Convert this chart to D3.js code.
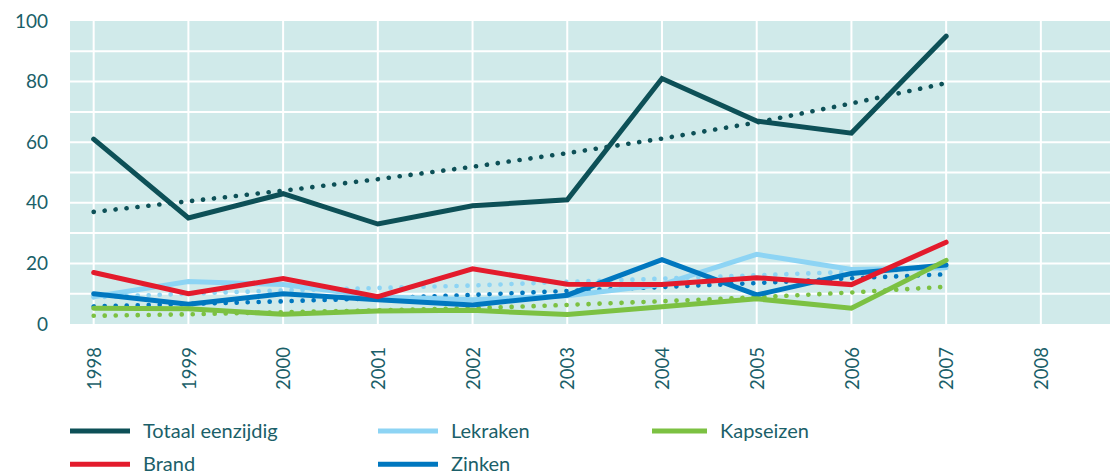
<!DOCTYPE html>
<html>
<head>
<meta charset="utf-8">
<script src="https://cdn.jsdelivr.net/npm/d3@7"></script>
<style>
    body { margin: 0; background: #fff; }
    svg { display: block; font-family: Lato, "Noto Sans", sans-serif; }
</style>
</head>
<body>
<svg id="chart" width="1112" height="473"></svg>
<script>
// data
const years = [1998, 1999, 2000, 2001, 2002, 2003, 2004, 2005, 2006, 2007]
const yearTicks = [1998, 1999, 2000, 2001, 2002, 2003, 2004, 2005, 2006, 2007, 2008]
const valueTicks = [0, 20, 40, 60, 80, 100]

const totaal = [61, 35, 43, 33, 39, 41, 81, 67, 63, 95]
const lekraken = [9, 14, 13, 9, 8, 9.3, 13, 23, 18, 18.6]
const zinken = [10, 6.5, 10, 8, 6.3, 9.5, 21.2, 9.6, 16.7, 19.5]
const kapseizen = [5.2, 5, 3.2, 4.3, 4.5, 3.1, 5.7, 8.3, 5.2, 21]
const brand = [17, 10, 15, 9, 18.2, 13.1, 13, 15.3, 13, 27]

// trend lines (dotted)
const totaalTrend = [37, 40.5, 44, 47.8, 51.9, 56.4, 61.2, 66.5, 72.8, 79.5]
const lekrakenTrend = [8.8, 10, 11.1, 11.9, 12.7, 13.9, 15, 16.1, 17.2, 18.4]
const zinkenTrend = [5.8, 6.6, 7.5, 8.5, 9.6, 10.9, 12.2, 13.5, 15.1, 16.4]
const kapseizenTrend = [2.7, 3.2, 3.9, 4.5, 5.2, 6.3, 7.5, 8.8, 10.4, 12.3]

const colors = {
    totaal: '#0d5057',
    lekraken: '#8dd4f4',
    zinken: '#0077bf',
    kapseizen: '#7cc142',
    brand: '#e31b2c'
}
const textColor = '#1b5f69'

const svg = d3.select('#chart')

const x = d3.scaleLinear().domain([1997.75, 2008.73]).range([70, 1110])
const y = d3.scaleLinear().domain([0, 100]).range([324, 21])

// plot background
svg.append('rect')
    .attr('x', x.range()[0])
    .attr('y', y(100))
    .attr('width', x.range()[1] - x.range()[0])
    .attr('height', y(0) - y(100))
    .attr('fill', '#d0eaea')

// grid
const gridG = svg.append('g')
gridG.selectAll('.hgrid')
    .data(d3.range(10, 100, 10))
    .enter().append('line')
    .attr('x1', x.range()[0])
    .attr('x2', x.range()[1])
    .attr('y1', d => y(d))
    .attr('y2', d => y(d))
    .attr('stroke', '#fff')
    .attr('stroke-width', 2)

gridG.selectAll('.vgrid')
    .data(yearTicks)
    .enter().append('line')
    .attr('x1', d => x(d))
    .attr('x2', d => x(d))
    .attr('y1', y(100))
    .attr('y2', y(0))
    .attr('stroke', '#fff')
    .attr('stroke-width', 2)

// axes
const yAxis = svg.append('g')
    .attr('transform', 'translate(48,0)')
    .call(d3.axisLeft(y).tickValues(valueTicks).tickSize(0).tickPadding(0))
yAxis.select('.domain').remove()
yAxis.selectAll('text')
    .attr('fill', textColor)
    .style('font-size', '19px')
    .style('font-family', 'Lato, sans-serif')

const xAxis = svg.append('g')
    .attr('transform', 'translate(0,' + y(0) + ')')
    .call(d3.axisBottom(x).tickValues(yearTicks).tickFormat(d3.format('d')).tickSize(0))
xAxis.select('.domain').remove()
xAxis.selectAll('text')
    .attr('fill', textColor)
    .style('font-size', '18.5px')
    .style('font-family', 'Lato, sans-serif')
    .attr('text-anchor', 'end')
    .attr('transform', 'translate(0,23) rotate(-90)')
    .attr('x', 0)
    .attr('y', 0)
    .attr('dy', '0.36em')

const line = d3.line()
    .x((d, i) => x(years[i]))
    .y(d => y(d))

// dotted trends underneath
const trends = [
    { values: lekrakenTrend, color: colors.lekraken },
    { values: zinkenTrend, color: colors.zinken },
    { values: kapseizenTrend, color: colors.kapseizen },
    { values: totaalTrend, color: colors.totaal }
]
trends.forEach(t => {
    svg.append('path')
        .attr('d', line(t.values))
        .attr('fill', 'none')
        .attr('stroke', t.color)
        .attr('stroke-width', 4.6)
        .attr('stroke-linecap', 'round')
        .attr('stroke-dasharray', '0.1 10.9')
})

const series = [
    { name: 'Lekraken', values: lekraken, color: colors.lekraken },
    { name: 'Zinken', values: zinken, color: colors.zinken },
    { name: 'Kapseizen', values: kapseizen, color: colors.kapseizen },
    { name: 'Brand', values: brand, color: colors.brand },
    { name: 'Totaal eenzijdig', values: totaal, color: colors.totaal }
]
series.forEach(s => {
    svg.append('path')
        .attr('d', line(s.values))
        .attr('fill', 'none')
        .attr('stroke', s.color)
        .attr('stroke-width', 5)
        .attr('stroke-linejoin', 'miter')
        .attr('stroke-linecap', 'round')
})

// legend
const legendItems = [
    { name: 'Totaal eenzijdig', color: colors.totaal, col: 0, row: 0 },
    { name: 'Lekraken', color: colors.lekraken, col: 1, row: 0 },
    { name: 'Kapseizen', color: colors.kapseizen, col: 2, row: 0 },
    { name: 'Brand', color: colors.brand, col: 0, row: 1 },
    { name: 'Zinken', color: colors.zinken, col: 1, row: 1 }
]
const colX = [70, 378, 652]
const colLen = [60, 60, 55]
const legendG = svg.append('g')
legendItems.forEach(item => {
    let lx = colX[item.col]
    let len = colLen[item.col]
    let ly = 431 + item.row * 33.3
    legendG.append('line')
        .attr('x1', lx)
        .attr('x2', lx + len)
        .attr('y1', ly)
        .attr('y2', ly)
        .attr('stroke', item.color)
        .attr('stroke-width', 5)
    legendG.append('text')
        .attr('x', lx + len + 13)
        .attr('y', ly + 6.5)
        .attr('fill', textColor)
        .style('font-size', '20px')
        .text(item.name)
})
</script>
</body>
</html>
